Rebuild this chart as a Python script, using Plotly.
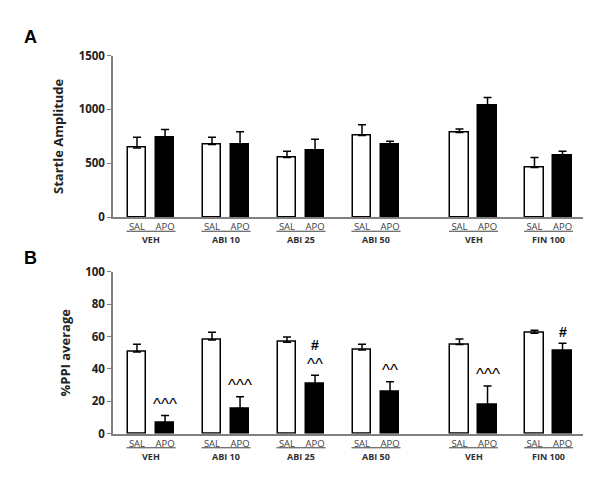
import plotly.graph_objects as go

groups = ["VEH", "ABI 10", "ABI 25", "ABI 50", "VEH", "FIN 100"]
group_pos = [0, 1, 2, 3, 4.3, 5.3]
conditions = ["SAL", "APO"]

startle_sal = [642, 675, 553, 759, 786, 462]
startle_sal_err = [99, 66, 59, 99, 33, 91]
startle_apo = [741, 675, 615, 672, 1038, 576]
startle_apo_err = [72, 117, 108, 33, 72, 36]

ppi_sal = [50.5, 57.9, 56.5, 51.7, 55.1, 62.1]
ppi_sal_err = [4.8, 4.8, 3.2, 3.6, 3.4, 1.8]
ppi_apo = [6.8, 15.6, 30.7, 25.9, 17.8, 51.3]
ppi_apo_err = [4.4, 7.3, 5.4, 6.2, 11.7, 4.6]
ppi_apo_carets = ["^^^", "^^^", "^^", "^^", "^^^", ""]
ppi_apo_hash = ["", "", "#", "", "", "#"]

off = 0.187
bw = 0.25
xs_sal = [p - off for p in group_pos]
xs_apo = [p + off for p in group_pos]

W, H = 602, 496
xdom = [113 / W, 583 / W]
ydomA = [1 - 215.7 / H, 1 - 49 / H]
ydomB = [1 - 439 / H, 1 - 272 / H]

fig = go.Figure()
axcol = "#808080"
font = "Open Sans"

def add_bars(xa, ya, sal, salerr, apo, apoerr):
    fig.add_trace(go.Bar(x=xs_sal, y=sal, width=bw, xaxis=xa, yaxis=ya,
                         marker=dict(color="white", line=dict(color="black", width=1.5)),
                         error_y=dict(type="data", symmetric=False, array=salerr,
                                      arrayminus=[0] * len(sal), color="black",
                                      thickness=1.5, width=4),
                         showlegend=False))
    fig.add_trace(go.Bar(x=xs_apo, y=apo, width=bw, xaxis=xa, yaxis=ya,
                         marker=dict(color="black", line=dict(color="black", width=1.5)),
                         error_y=dict(type="data", symmetric=False, array=apoerr,
                                      arrayminus=[0] * len(apo), color="black",
                                      thickness=1.5, width=4),
                         showlegend=False))

add_bars("x", "y", startle_sal, startle_sal_err, startle_apo, startle_apo_err)
add_bars("x2", "y2", ppi_sal, ppi_sal_err, ppi_apo, ppi_apo_err)

tickvals = []
ticktext = []
for s, a in zip(xs_sal, xs_apo):
    tickvals += [s, a]
    ticktext += conditions

xcommon = dict(domain=xdom, range=[-0.507, 5.76], showline=True, linecolor=axcol,
               linewidth=1.5, showgrid=False, zeroline=False, tickvals=tickvals,
               ticktext=ticktext, ticks="", ticklabelstandoff=0,
               tickfont=dict(family=font, size=9.5, color="#404040"),
               fixedrange=True)
yfont = dict(family=font, size=11.5, color="#222")
fig.update_layout(
    xaxis=dict(**xcommon, anchor="y"),
    xaxis2=dict(**xcommon, anchor="y2"),
    yaxis=dict(domain=ydomA, range=[0, 1500], tickvals=[0, 500, 1000, 1500],
               ticktext=["<b>0</b>", "<b>500</b>", "<b>1000</b>", "<b>1500</b>"],
               showline=True, linecolor=axcol, linewidth=1.5, ticks="outside",
               ticklen=4, tickcolor=axcol, showgrid=False, zeroline=False,
               tickfont=yfont, anchor="x",
               title=dict(text="<b>Startle Amplitude</b>", font=dict(family=font, size=13, color="#222"),
                          standoff=12)),
    yaxis2=dict(domain=ydomB, range=[0, 100], tickvals=[0, 20, 40, 60, 80, 100],
                ticktext=["<b>%d</b>" % v for v in [0, 20, 40, 60, 80, 100]],
                showline=True, linecolor=axcol, linewidth=1.5, ticks="outside",
                ticklen=4, tickcolor=axcol, showgrid=False, zeroline=False,
                tickfont=yfont, anchor="x2",
                title=dict(text="<b>%PPI average</b>", font=dict(family=font, size=13, color="#222"),
                           standoff=12)),
    width=W, height=H, margin=dict(l=0, r=0, t=0, b=0),
    plot_bgcolor="white", paper_bgcolor="white", bargap=0,
)

annotations = []
shapes = []
for panel, (xr, ybase_px) in enumerate([("x", 215.7), ("x2", 439)]):
    for g, s, a in zip(groups, xs_sal, xs_apo):
        shapes.append(dict(type="line", xref=xr, yref="paper",
                           x0=s - 0.14, x1=a + 0.14,
                           y0=1 - (ybase_px + 14.5) / H, y1=1 - (ybase_px + 14.5) / H,
                           line=dict(color="#404040", width=1)))
        annotations.append(dict(text="<b>" + g + "</b>", xref=xr, yref="paper",
                                x=(s + a) / 2, y=1 - (ybase_px + 23.5) / H,
                                showarrow=False, font=dict(family=font, size=9, color="#303030"),
                                yanchor="middle"))

for x, v, e, c, h in zip(xs_apo, ppi_apo, ppi_apo_err, ppi_apo_carets, ppi_apo_hash):
    if c:
        annotations.append(dict(text=c, xref="x2", yref="y2", x=x, y=v + e,
                                yanchor="middle", showarrow=False, yshift=11,
                                font=dict(family="Liberation Sans", size=17, color="black")))
    if h:
        annotations.append(dict(text="<b>" + h + "</b>", xref="x2", yref="y2", x=x, y=v + e,
                                yanchor="middle", showarrow=False,
                                yshift=30 if c else 11,
                                font=dict(family="Liberation Sans", size=14, color="black")))

annotations.append(dict(text="<b>A</b>", xref="paper", yref="paper", x=22 / W, y=1 - 30 / H,
                        showarrow=False, font=dict(family="Liberation Sans", size=18, color="black"),
                        xanchor="left", yanchor="middle"))
annotations.append(dict(text="<b>B</b>", xref="paper", yref="paper", x=22 / W, y=1 - 258 / H,
                        showarrow=False, font=dict(family="Liberation Sans", size=18, color="black"),
                        xanchor="left", yanchor="middle"))

fig.update_layout(annotations=annotations, shapes=shapes)
fig.write_html("out.html", config={"displayModeBar": False},
               post_script="document.body.style.margin='0';document.body.style.overflow='hidden';")
